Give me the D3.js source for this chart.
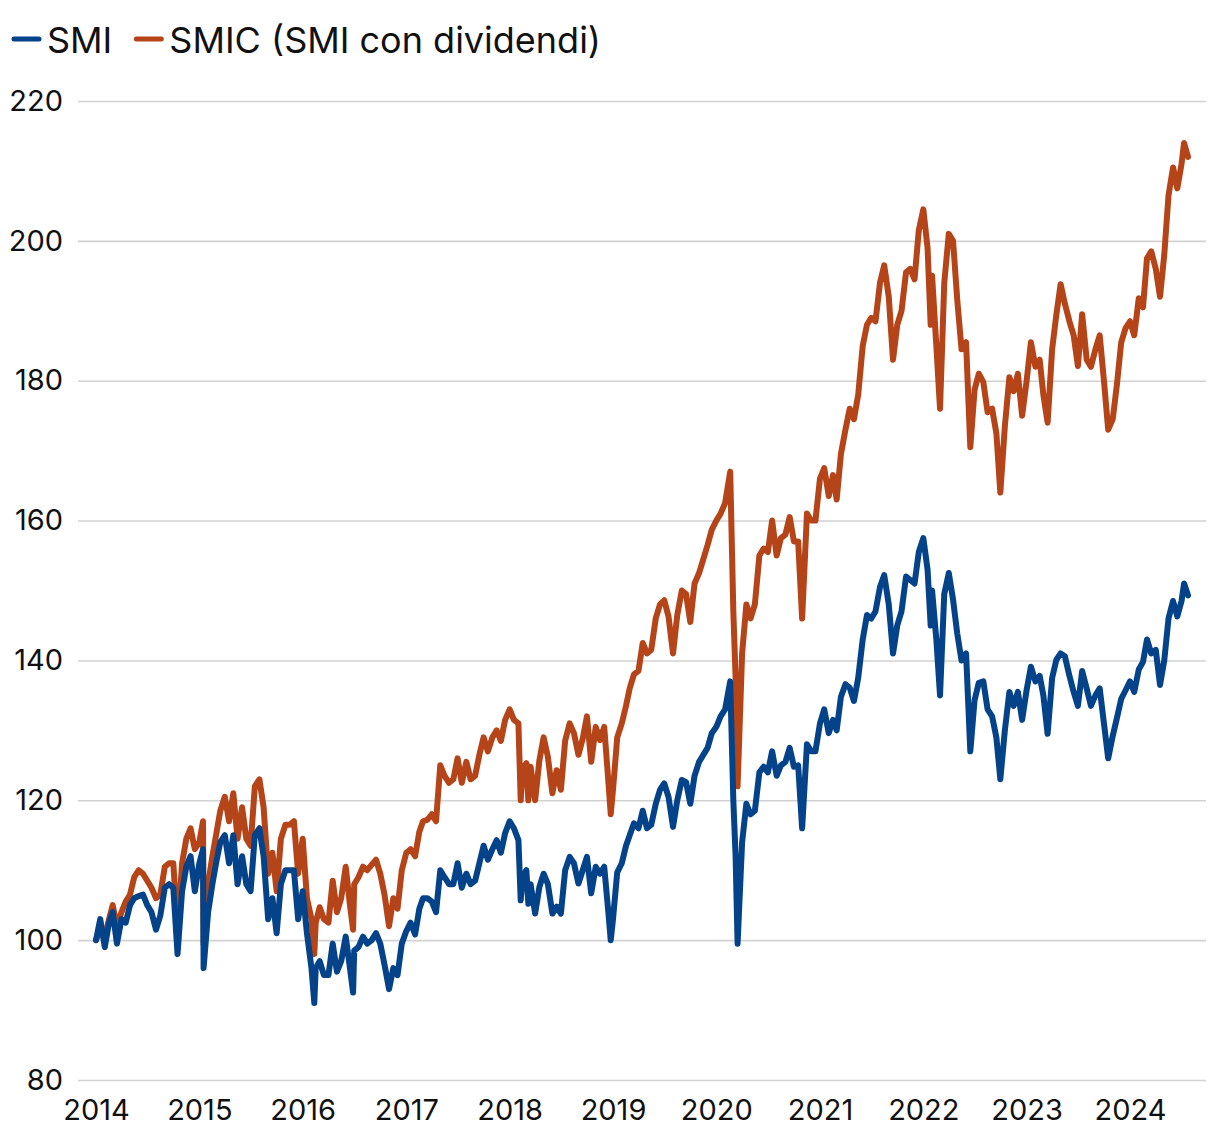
<!DOCTYPE html>
<html><head><meta charset="utf-8">
<script src="https://cdn.jsdelivr.net/npm/d3@7"></script>
<style>
body{margin:0;background:#fff;}
svg{display:block;font-family:Inter,"Noto Sans",sans-serif;}
</style>
</head><body>
<svg id="chart" width="1220" height="1140"></svg>
<script>
// ---- data (index level, Jan 2014 = 100) ----
const dates = [
"2014-01-01","2014-01-16","2014-02-01","2014-02-16","2014-03-01","2014-03-16","2014-04-01","2014-04-16","2014-05-01","2014-05-16","2014-06-01","2014-06-16",
"2014-07-01","2014-07-16","2014-08-01","2014-08-16","2014-09-01","2014-09-16","2014-10-01","2014-10-16","2014-11-01","2014-11-16","2014-12-01","2014-12-16",
"2015-01-01","2015-01-14","2015-01-16","2015-02-01","2015-02-16","2015-03-01","2015-03-16","2015-04-01","2015-04-16","2015-05-01","2015-05-16","2015-06-01","2015-06-16",
"2015-07-01","2015-07-16","2015-08-01","2015-08-16","2015-09-01","2015-09-16","2015-10-01","2015-10-16","2015-11-01","2015-11-16","2015-12-01","2015-12-16",
"2016-01-01","2016-01-16","2016-02-01","2016-02-11","2016-02-16","2016-03-01","2016-03-16","2016-04-01","2016-04-16","2016-05-01","2016-05-16","2016-06-01","2016-06-16","2016-06-27",
"2016-07-01","2016-07-16","2016-08-01","2016-08-16","2016-09-01","2016-09-16","2016-10-01","2016-10-16","2016-11-01","2016-11-16","2016-12-01","2016-12-16",
"2017-01-01","2017-01-16","2017-02-01","2017-02-16","2017-03-01","2017-03-16","2017-04-01","2017-04-16","2017-05-01","2017-05-16","2017-06-01","2017-06-16",
"2017-07-01","2017-07-16","2017-08-01","2017-08-16","2017-09-01","2017-09-16","2017-10-01","2017-10-16","2017-11-01","2017-11-16","2017-12-01","2017-12-16",
"2018-01-01","2018-01-16","2018-02-01","2018-02-09","2018-02-16","2018-03-01","2018-03-08","2018-03-16","2018-04-01","2018-04-16","2018-05-01","2018-05-16","2018-06-01","2018-06-16",
"2018-07-01","2018-07-16","2018-08-01","2018-08-16","2018-09-01","2018-09-16","2018-10-01","2018-10-16","2018-11-01","2018-11-16","2018-12-01","2018-12-16","2018-12-24",
"2019-01-01","2019-01-16","2019-02-01","2019-02-16","2019-03-01","2019-03-16","2019-04-01","2019-04-16","2019-05-01","2019-05-16","2019-06-01","2019-06-16",
"2019-07-01","2019-07-16","2019-08-01","2019-08-16","2019-09-01","2019-09-16","2019-10-01","2019-10-16","2019-11-01","2019-11-16","2019-12-01","2019-12-16",
"2020-01-01","2020-01-16","2020-02-01","2020-02-19","2020-03-01","2020-03-09","2020-03-16","2020-04-01","2020-04-16","2020-05-01","2020-05-16","2020-06-01","2020-06-16",
"2020-07-01","2020-07-16","2020-08-01","2020-08-16","2020-09-01","2020-09-16","2020-10-01","2020-10-16","2020-10-30","2020-11-16","2020-12-01","2020-12-16",
"2021-01-01","2021-01-16","2021-02-01","2021-02-16","2021-03-01","2021-03-16","2021-04-01","2021-04-16","2021-05-01","2021-05-16","2021-06-01","2021-06-16",
"2021-07-01","2021-07-16","2021-08-01","2021-08-16","2021-09-01","2021-09-16","2021-10-01","2021-10-16","2021-11-01","2021-11-16","2021-12-01","2021-12-16",
"2022-01-01","2022-01-16","2022-01-27","2022-02-01","2022-02-16","2022-03-01","2022-03-16","2022-04-01","2022-04-16","2022-05-01","2022-05-16","2022-06-01","2022-06-16",
"2022-07-01","2022-07-16","2022-08-01","2022-08-16","2022-09-01","2022-09-16","2022-09-30","2022-10-16","2022-11-01","2022-11-16","2022-12-01","2022-12-16",
"2023-01-01","2023-01-16","2023-02-01","2023-02-16","2023-03-01","2023-03-16","2023-04-01","2023-04-16","2023-05-01","2023-05-16","2023-06-01","2023-06-16",
"2023-07-01","2023-07-16","2023-08-01","2023-08-16","2023-09-01","2023-09-16","2023-10-01","2023-10-16","2023-11-01","2023-11-16","2023-12-01","2023-12-16",
"2024-01-01","2024-01-16","2024-02-01","2024-02-16","2024-03-01","2024-03-16","2024-04-01","2024-04-16","2024-05-01","2024-05-16","2024-06-01","2024-06-16",
"2024-07-01","2024-07-10","2024-07-24"
];
const smi = [
100,103,99,102.5,104,99.5,103,102.5,105,106,106.3,106.5,
105,104,101.5,103.5,107.5,108,107.5,98,107,110.5,112,107,
111,113,96,104,108,111,114,115,111,115,108,112,108,
107,115,116,112,103,106,101,108,110,110,110,103,
107,101,96,91,96,97,95,95,99.5,95.5,97,100.5,96,92.5,
98.5,99,100.5,99.5,100,101,99.5,96.5,93,96,95,99.5,
101.3,102.5,100.8,104.5,106,106,105.5,104,110,109,108,108,
111,107.5,109.5,108,108.5,111,113.5,111.5,113,114.3,112.5,115.3,
117,116,114.3,105.7,109,110,105.2,108,103.8,107.6,109.5,108,103.8,104.8,
103.8,110,111.9,111,108.1,110,111.9,106.7,110.5,109.5,110.5,103.8,100,
103,109.7,111,113.5,115,116.7,116,118.5,116,116.5,119.5,121.5,
122.4,120.5,116.2,120,122.9,122.6,119.5,123.5,125.5,126.5,127.5,129.6,
130.5,132,133,137,120,112,99.5,114,119.5,118,118.5,124,124.8,
124,127,123.5,125,125.5,127.5,124.8,125,116,128,127,127,
131,133,129.6,131.5,130,134.8,136.6,136.1,134.2,137.5,143,146.5,
146,147,150.5,152.2,148,141,145,147,152,151.5,151,155.5,
157.5,153,145,150,143,135,149.5,152.5,148.7,143.8,140,141,127,
134.3,136.8,137,133,132,129,123,130,135.5,133.5,135.5,131.5,
135.8,139.1,137,137.8,135,129.5,137.5,140.1,141,140.6,137.8,135.5,
133.5,138.5,136,133.5,135,136,131,126,129.2,131.8,134.5,135.7,
137,135.5,138.7,139.8,143,141,141.5,136.5,140,146,148.5,146.3,
148.5,151,149.3
];
const smic = [
100,101.5,100.5,103,105,102,104,105.5,106.5,109,110,109.5,
108.5,107.5,106,106.5,110.5,111,111,101.5,111,114.5,116,113,
114,117,99.5,108,112,115,118.5,120.5,117,121,114.5,119,114.5,
113.5,122,123,119,109.5,112.5,107,114.5,116.5,116.5,117,109.5,
114.5,106,103,98,102.5,104.7,103,102.5,108.5,104,106,110.5,105,101.5,
108,109,110.5,110,110.8,111.5,109.5,106.5,102,106,104.5,110,
112.5,113,112,115.5,117,117.2,118,117,125,123.5,122.5,123,
126,122.5,125.5,123,123.5,126.5,129,127,129,130,128.5,131.5,
133,131.5,131,120,124.5,125.3,120,124.8,120,125.7,129,126.2,121,124.3,
121.5,128.5,131,129.6,126.5,128.8,132,125.5,130.5,128.6,130.5,122.5,118,
121.5,129,131,133.5,136,138,138.5,142.5,141,141.5,146,148,
148.6,146.3,141,146.5,150,149.5,145.5,151,152.5,154.5,156.5,158.7,
160,161,162.5,167,147,137.5,122,141,148,146,148,155,156,
155.5,160,155,157.5,158,160.5,157,157,146,161,160,160,
166,167.5,163.5,166.5,163,169.5,173,176,174.5,178,185,188,
189,188.5,194,196.5,192,183,188,190,195.5,196,194.5,201.5,
204.5,199,188,195,185,176,194,201,200,191.5,184.5,185.5,170.5,
178.7,181,179.8,175.5,176,172.5,164,173.5,180.5,178.5,181,175,
180,185.5,182,183,178,174,184.5,189.5,193.8,191,188.5,186.5,
182.1,189.5,183,182,184.5,186.5,180,173,174.5,179.5,185.5,187.5,
188.5,186.5,191.8,190.5,197.5,198.5,196,192,198,206.5,210.5,207.5,
211,214,212
];
const seriesNames = ["SMI", "SMIC (SMI con dividendi)"];
const seriesColors = ["#04438a", "#b54518"];
const yTicks = [80, 100, 120, 140, 160, 180, 200, 220];
const xTickYears = ["2014","2015","2016","2017","2018","2019","2020","2021","2022","2023","2024"];

// ---- chart ----
const svg = d3.select("#chart");
const parse = d3.timeParse("%Y-%m-%d");
const parseY = d3.timeParse("%Y");
const dts = dates.map(parse);

const gridLeft = 78, gridRight = 1206;
const x = d3.scaleTime()
  .domain([parseY("2014"), parseY("2024")])
  .range([96, 1130]);
const y = d3.scaleLinear().domain([80, 220]).range([1080, 101]);

// y axis with gridlines
const yAxis = svg.append("g")
  .attr("transform", `translate(${gridLeft},0)`)
  .call(d3.axisLeft(y).tickValues(yTicks).tickSize(-(gridRight - gridLeft)).tickPadding(15).tickFormat(d3.format("d")));
yAxis.select(".domain").remove();
yAxis.selectAll(".tick line").attr("stroke", "#d2d2d2").attr("stroke-width", 1.6);
yAxis.selectAll(".tick text").attr("font-size", 29).attr("fill", "#111").attr("font-family", "Inter");

// x axis
const xAxis = svg.append("g")
  .attr("transform", `translate(0,1080)`)
  .call(d3.axisBottom(x).tickValues(xTickYears.map(parseY)).tickSize(0).tickPadding(19).tickFormat(d3.timeFormat("%Y")));
xAxis.select(".domain").remove();
xAxis.selectAll(".tick text").attr("font-size", 29).attr("fill", "#111").attr("font-family", "Inter");

// lines
const line = d3.line().x((d, i) => x(dts[i])).y(d => y(d)).curve(d3.curveLinear);
[[smic, 1], [smi, 0]].forEach(([vals, ci]) => {
  svg.append("path")
    .datum(vals)
    .attr("d", line)
    .attr("fill", "none")
    .attr("stroke", seriesColors[ci])
    .attr("stroke-width", 6)
    .attr("stroke-linejoin", "round")
    .attr("stroke-linecap", "round");
});

// legend
const legend = svg.append("g");
let lx = 12;
seriesNames.forEach((name, i) => {
  legend.append("line")
    .attr("x1", lx + 2).attr("x2", lx + 27).attr("y1", 39).attr("y2", 39)
    .attr("stroke", seriesColors[i]).attr("stroke-width", 5).attr("stroke-linecap", "round");
  const t = legend.append("text")
    .attr("x", lx + 35).attr("y", 53)
    .attr("font-size", 36).attr("fill", "#111").attr("font-family", "Inter")
    .text(name);
  lx = lx + 35 + t.node().getComputedTextLength() + 22;
});
</script>
</body></html>
